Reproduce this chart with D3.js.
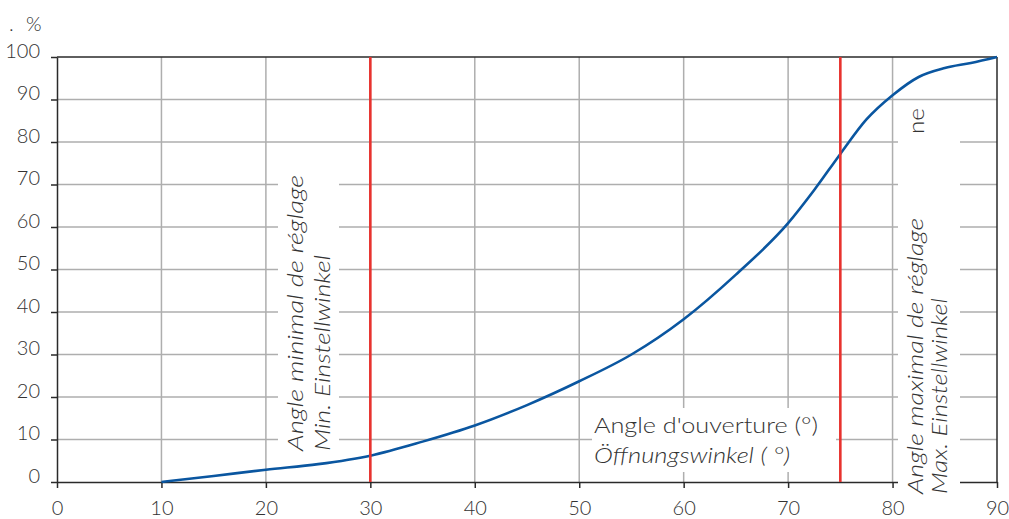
<!DOCTYPE html>
<html>
<head>
<meta charset="utf-8">
<script src="https://d3js.org/d3.v7.min.js"></script>
<style>
  body { margin: 0; background: #fff; }
  text { font-family: Lato, "Open Sans", sans-serif; font-weight: 300; fill: #333; }
</style>
</head>
<body>
<div id="graph"></div>
<script>

// data
var angles = [10, 15, 20, 25, 30, 35, 40, 45, 50, 55, 60, 65, 70, 72.5, 75, 77.5, 80, 82.5, 85, 87.5, 90];
var opening = [0, 1.4, 2.9, 4.2, 6.2, 9.5, 13.3, 18.1, 23.7, 30, 38.3, 48.8, 60.9, 68.7, 77.2, 85.3, 91, 95.3, 97.4, 98.6, 100];
var xTicks = [0, 10, 20, 30, 40, 50, 60, 70, 80, 90];
var yTicks = [0, 10, 20, 30, 40, 50, 60, 70, 80, 90, 100];
var limitAngles = [30, 75];

var width = 1009, height = 519;
var margin = {top: 57, right: 12, bottom: 37, left: 57};

var svg = d3.select("#graph").append("svg")
  .attr("width", width)
  .attr("height", height);

var x = d3.scaleLinear().domain([0, 90]).range([margin.left, width - margin.right]);
var y = d3.scaleLinear().domain([0, 100]).range([height - margin.bottom, margin.top]);

// grid
svg.append("g").selectAll("line").data(xTicks.slice(1, -1)).enter().append("line")
  .attr("x1", function(d) { return x(d); }).attr("x2", function(d) { return x(d); })
  .attr("y1", y(0)).attr("y2", y(100))
  .style("stroke", "#aeaeae").style("stroke-width", 1.5);
svg.append("g").selectAll("line").data(yTicks.slice(1, -1)).enter().append("line")
  .attr("x1", x(0)).attr("x2", x(90))
  .attr("y1", function(d) { return y(d); }).attr("y2", function(d) { return y(d); })
  .style("stroke", "#aeaeae").style("stroke-width", 1.5);

// axes
var xAxis = svg.append("g")
  .attr("transform", "translate(0," + y(0) + ")")
  .call(d3.axisBottom(x).tickValues(xTicks).tickSize(6).tickPadding(13).tickSizeOuter(0));
var yAxis = svg.append("g")
  .attr("transform", "translate(" + x(0) + ",0)")
  .call(d3.axisLeft(y).tickValues(yTicks).tickSize(6).tickPadding(11).tickSizeOuter(0));
[xAxis, yAxis].forEach(function(a) {
  a.selectAll("path, line").style("stroke", "#2a2a2a").style("stroke-width", 1.5);
  a.selectAll("text").style("font-size", "20px").style("font-family", "Lato, sans-serif")
    .style("font-weight", 300).style("fill", "#333");
});
yAxis.selectAll("text").attr("dy", "0");

// top and right frame
svg.append("line").attr("x1", x(0)).attr("x2", x(90)).attr("y1", y(100)).attr("y2", y(100))
  .style("stroke", "#2a2a2a").style("stroke-width", 1.5);
svg.append("line").attr("x1", x(90)).attr("x2", x(90)).attr("y1", y(100)).attr("y2", y(0))
  .style("stroke", "#2a2a2a").style("stroke-width", 1.5);

// white boxes behind labels
var boxes = [
  {x0: 278, x1: 339, y0: 165, y1: 470},
  {x0: 898, x1: 960, y0: 104, y1: 492},
  {x0: 592, x1: 836, y0: 408, y1: 472}
];
svg.append("g").selectAll("rect").data(boxes).enter().append("rect")
  .attr("x", function(d) { return d.x0; })
  .attr("y", function(d) { return d.y0; })
  .attr("width", function(d) { return d.x1 - d.x0; })
  .attr("height", function(d) { return d.y1 - d.y0; })
  .style("fill", "#fff");

// curve
var line = d3.line()
  .x(function(d, i) { return x(angles[i]); })
  .y(function(d) { return y(d); })
  .curve(d3.curveMonotoneX);
svg.append("path").datum(opening)
  .attr("d", line)
  .style("fill", "none")
  .style("stroke", "#0a56a0")
  .style("stroke-width", 2.6);

// limit lines
svg.append("g").selectAll("line").data(limitAngles).enter().append("line")
  .attr("x1", function(d) { return x(d); }).attr("x2", function(d) { return x(d); })
  .attr("y1", y(0)).attr("y2", y(100))
  .style("stroke", "#e8322e").style("stroke-width", 2.6);

// unit label
svg.append("text").attr("x", 9).attr("y", 31).style("font-size", "20px").text(".");
svg.append("text").attr("x", 26).attr("y", 31).style("font-size", "20px").text("%");

// rotated labels (stretched to the width of the original font)
function vlabel(xp, yp, txt, italic, len) {
  svg.append("text")
    .attr("transform", "translate(" + xp + "," + yp + ") rotate(-90)")
    .attr("textLength", len)
    .attr("lengthAdjust", "spacingAndGlyphs")
    .style("font-size", "21px")
    .style("font-style", italic ? "italic" : "normal")
    .text(txt);
}
vlabel(303, 451, "Angle minimal de réglage", true, 276);
vlabel(330, 451, "Min. Einstellwinkel", true, 196);
vlabel(923, 494, "Angle maximal de réglage", true, 276);
vlabel(947, 494, "Max. Einstellwinkel", true, 196);
vlabel(924, 134, "ne", false, 26);

// axis title
svg.append("text").attr("x", 594).attr("y", 433).attr("textLength", 224).attr("lengthAdjust", "spacingAndGlyphs")
  .style("font-size", "21px").text("Angle d'ouverture (°)");
svg.append("text").attr("x", 594).attr("y", 463).attr("textLength", 196).attr("lengthAdjust", "spacingAndGlyphs")
  .style("font-size", "21px").style("font-style", "italic").text("Öffnungswinkel ( °)");

</script>
</body>
</html>
